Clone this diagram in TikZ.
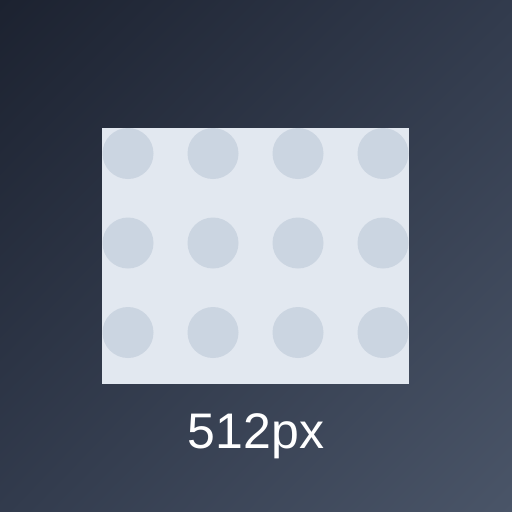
\documentclass[tikz,border=0pt]{standalone}
\usepackage{fontspec}
\setmainfont{Liberation Sans}
\usetikzlibrary{positioning, shadings}
\definecolor{bgdark}{HTML}{1C2230}
\definecolor{bgmid}{HTML}{323B4D}
\definecolor{bglight}{HTML}{4A5568}
\definecolor{panelfill}{HTML}{E2E8F0}
\definecolor{dotfill}{HTML}{CBD5E1}

\begin{document}
\begin{tikzpicture}[
    x=1pt, y=-1pt,
    panel/.style={fill=panelfill, draw=none},
    dot/.style={fill=dotfill},
    sizelabel/.style={text=white, font=\fontsize{50}{50}\selectfont, inner sep=0pt},
]

% === FONDO ===
\shade[upper left=bgdark, lower right=bglight, upper right=bgmid, lower left=bgmid]
    (0,0) rectangle (512,512);
\useasboundingbox (0,0) rectangle (512,512);

% === PANEL ===
\coordinate (panelNW) at (102,128);
\coordinate (panelSE) at (409,384);
\fill[panel] (panelNW) rectangle (panelSE);

% Puntos
\begin{scope}
    \clip (panelNW) rectangle (panelSE);
    \foreach \x in {128, 213, 298, 383} {
        \foreach \y in {153.5, 243, 332.5} {
            \fill[dot] (\x,\y) circle (25.5);
        }
    }
\end{scope}

% === ETIQUETA ===
\node[sizelabel, anchor=base] (size) at (256,448) {512px};

\end{tikzpicture}
\end{document}
